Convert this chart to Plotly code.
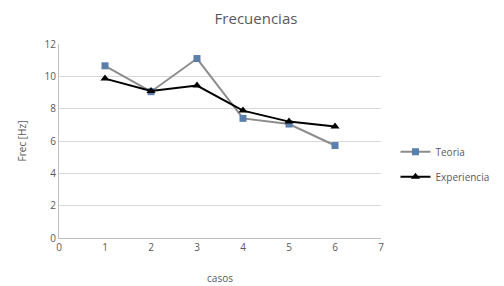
import plotly.graph_objects as go

casos = [1, 2, 3, 4, 5, 6]
teoria = [10.65, 9.05, 11.1, 7.4, 7.05, 5.72]
experiencia = [9.86, 9.1, 9.43, 7.88, 7.2, 6.9]
x_ticks = [0, 1, 2, 3, 4, 5, 6, 7]
y_ticks = [0, 2, 4, 6, 8, 10, 12]

font_fam = "Open Sans, Lato, sans-serif"
grey_txt = "#595959"

fig = go.Figure()
fig.add_trace(go.Scatter(
    x=casos, y=teoria, mode="lines+markers", name="Teoria",
    line=dict(color="#8c8c8c", width=2),
    marker=dict(symbol="square", size=7, color="#5b7fad"),
    legendgroup="a",
))
fig.add_trace(go.Scatter(
    x=casos, y=experiencia, mode="lines+markers", name="Experiencia",
    line=dict(color="#000000", width=2),
    marker=dict(symbol="triangle-up", size=8, color="#000000"),
    legendgroup="b",
))

# page body has an 8px default margin; figure sized to fit the 504x286 window
fig.update_layout(
    width=496, height=278,
    margin=dict(l=51, r=123, t=36, b=48, autoexpand=False),
    paper_bgcolor="white", plot_bgcolor="white",
    font=dict(family=font_fam, color=grey_txt, size=10),
    title=dict(text="Frecuencias", x=0.5, xanchor="center", y=0.962, yanchor="middle",
               font=dict(size=15, color=grey_txt)),
    xaxis=dict(range=[0, 7], tickvals=x_ticks, showgrid=False, zeroline=False,
               showline=True, linecolor="#bfbfbf", linewidth=1, automargin=False,
               ticks="", tickfont=dict(size=10, color=grey_txt),
               title=dict(text="casos", font=dict(size=10, color=grey_txt), standoff=21)),
    yaxis=dict(range=[0, 12], tickvals=y_ticks, showgrid=True, gridcolor="#d9d9d9",
               zeroline=False, showline=True, linecolor="#bfbfbf", linewidth=1, automargin=False,
               ticks="", tickfont=dict(size=10, color=grey_txt),
               title=dict(text="Frec [Hz]", font=dict(size=10, color=grey_txt), standoff=16)),
    legend=dict(x=1.045, y=0.38, xanchor="left", yanchor="middle",
                font=dict(size=10, color=grey_txt), tracegroupgap=6,
                traceorder="grouped", bgcolor="rgba(0,0,0,0)"),
    showlegend=True,
)

fig.write_html("out.html")
